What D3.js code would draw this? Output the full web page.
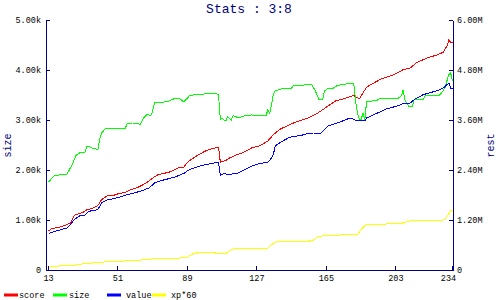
<!DOCTYPE html>
<html>
<head>
<meta charset="utf-8">
<script src="https://cdn.jsdelivr.net/npm/d3@7"></script>
<style>
body { margin: 0; background: #fff; }
text { font-family: "Liberation Mono", "DejaVu Sans Mono", monospace; }
</style>
</head>
<body>
<div id="chart"></div>
<script>
var title = "Stats : 3:8";
var turnTicks = [13, 51, 89, 127, 165, 203, 234];
var sizeTicks = [0, 1, 2, 3, 4, 5];          // thousands
var restTicks = [0, 1.2, 2.4, 3.6, 4.8, 6];  // millions
var seriesNames = ["score", "size", "value", "xp*60"];
var seriesAxis = ["rest", "size", "rest", "rest"];

// [turn, value]  size in k, the rest in M
var scoreData = [[13,0.95],[15,1.01],[19,1.04],[22,1.08],[25,1.14],[27,1.32],[30,1.37],[32,1.40],[34,1.46],[37,1.49],
  [40,1.56],[42,1.70],[45,1.79],[49,1.81],[51,1.84],[55,1.88],[58,1.94],[61,1.98],[64,2.04],[67,2.12],[70,2.22],[73,2.30],
  [79,2.36],[84,2.46],[87,2.48],[89,2.60],[92,2.69],[95,2.78],[99,2.87],[103,2.93],[106,2.96],[107,2.60],[110,2.64],
  [112,2.70],[116,2.78],[120,2.84],[124,2.94],[129,3.00],[133,3.11],[136,3.26],[140,3.40],[147,3.54],[155,3.66],
  [160,3.77],[165,3.92],[170,4.07],[176,4.14],[180,4.20],[183,4.12],[185,4.26],[187,4.40],[195,4.60],[202,4.70],
  [207,4.82],[211,4.86],[214,4.98],[220,5.10],[226,5.18],[229,5.24],[231,5.39],[232,5.53],[233,5.48],[234,5.48]];

var sizeData = [[13,1.77],[16,1.89],[19,1.91],[23,1.92],[26,2.12],[28,2.30],[30,2.35],[33,2.37],[34,2.49],[37,2.45],
  [40,2.42],[41,2.63],[42,2.75],[44,2.83],[49,2.84],[51,2.83],[55,2.84],[56,2.94],[59,2.95],[62,2.95],[63,2.91],
  [65,3.05],[67,3.12],[69,3.10],[70,3.19],[71,3.37],[76,3.37],[79,3.39],[82,3.44],[85,3.43],[87,3.37],[90,3.49],
  [92,3.51],[98,3.53],[103,3.55],[106,3.52],[107,3.02],[108,3.05],[109,3.01],[110,2.99],[111,3.07],[113,3.01],
  [114,3.10],[117,3.05],[120,3.09],[124,3.11],[131,3.10],[132,3.09],[133,3.22],[134,3.14],[135,3.32],[136,3.52],
  [137,3.59],[140,3.63],[146,3.65],[147,3.70],[153,3.71],[157,3.72],[159,3.59],[161,3.42],[163,3.42],[164,3.59],
  [166,3.65],[169,3.65],[171,3.70],[176,3.73],[180,3.74],[181,3.39],[182,3.15],[183,3.03],[184,3.01],[185,3.15],
  [186,3.01],[187,3.37],[193,3.41],[194,3.43],[204,3.44],[206,3.49],[207,3.61],[208,3.41],[210,3.29],[212,3.29],
  [213,3.41],[218,3.42],[219,3.49],[227,3.51],[228,3.55],[230,3.66],[231,3.80],[232,3.92],[233,3.95],[234,3.79]];

var valueData = [[13,0.89],[15,0.92],[19,0.97],[23,1.02],[25,1.10],[27,1.22],[30,1.31],[33,1.33],[35,1.42],[40,1.46],
  [42,1.62],[45,1.69],[51,1.75],[56,1.82],[60,1.86],[65,1.93],[68,1.98],[71,2.10],[74,2.15],[82,2.24],[87,2.33],
  [90,2.42],[96,2.51],[101,2.56],[106,2.60],[107,2.28],[109,2.33],[111,2.30],[116,2.33],[120,2.41],[124,2.50],
  [128,2.56],[133,2.60],[135,2.70],[136,2.78],[137,2.99],[140,3.08],[145,3.20],[151,3.24],[155,3.29],[158,3.30],
  [162,3.30],[166,3.47],[171,3.54],[178,3.66],[181,3.61],[186,3.59],[187,3.66],[193,3.78],[198,3.88],[204,3.95],
  [207,4.01],[211,4.02],[213,4.10],[218,4.22],[226,4.32],[229,4.38],[232,4.50],[233,4.38],[234,4.38]];

var xpData = [[13,0.08],[19,0.11],[27,0.13],[34,0.17],[42,0.20],[49,0.22],[56,0.23],[63,0.25],[70,0.28],[80,0.29],
  [85,0.30],[89,0.32],[92,0.40],[95,0.43],[103,0.43],[107,0.40],[110,0.41],[112,0.47],[114,0.52],[131,0.53],
  [133,0.54],[135,0.62],[137,0.68],[140,0.70],[155,0.70],[158,0.73],[160,0.80],[163,0.83],[169,0.84],[170,0.85],
  [182,0.86],[184,0.98],[186,1.08],[187,1.10],[197,1.10],[198,1.13],[206,1.13],[208,1.16],[211,1.19],[228,1.19],
  [230,1.24],[232,1.36],[233,1.44],[234,1.44]];

var seriesData = [scoreData, sizeData, valueData, xpData];
var colors = ["#ff0000", "#00ff00", "#0000ff", "#ffff00"];
var navy = "#000080";

var w = 500, h = 300;
var plot = {left: 46, right: 453, top: 20, bottom: 270};

var svg = d3.select("#chart").append("svg").attr("width", w).attr("height", h);

var xScale = d3.scaleLinear().domain([13, 234]).range([48, 452]);
var ySize = d3.scaleLinear().domain([0, 5]).range([plot.bottom, plot.top]);
var yRest = d3.scaleLinear().domain([0, 6]).range([plot.bottom, plot.top]);

// title
svg.append("text").text(title)
    .attr("x", 249).attr("y", 13)
    .attr("text-anchor", "middle")
    .attr("fill", navy)
    .style("font-size", "13px");

// lines
var lineWrap = svg.append("g");
seriesData.forEach(function(data, i){
    var y = seriesAxis[i] == "size" ? ySize : yRest;
    var line = d3.line()
        .x(function(d){ return xScale(d[0]) + 0.5; })
        .y(function(d){ return y(d[1]) + 0.5; });
    lineWrap.append("path")
        .datum(data)
        .attr("d", line)
        .attr("fill", "none")
        .attr("stroke", colors[i])
        .attr("stroke-width", 1)
        .attr("shape-rendering", "crispEdges");
});

// axes
var leftAxis = d3.axisLeft(ySize).tickValues(sizeTicks).tickSizeInner(-4).tickSizeOuter(0).tickPadding(5)
    .tickFormat(function(d){ return d == 0 ? "0" : d.toFixed(2) + "k"; });
var rightAxis = d3.axisRight(yRest).tickValues(restTicks).tickSizeInner(-4).tickSizeOuter(0).tickPadding(4)
    .tickFormat(function(d){ return d == 0 ? "0" : d.toFixed(2) + "M"; });
var bottomAxis = d3.axisBottom(xScale).tickValues(turnTicks).tickSizeInner(-4).tickSizeOuter(0).tickPadding(5);

var gl = svg.append("g").attr("transform", "translate(" + plot.left + ",0)").call(leftAxis);
var gr = svg.append("g").attr("transform", "translate(" + plot.right + ",0)").call(rightAxis);
var gb = svg.append("g").attr("transform", "translate(0," + plot.bottom + ")").call(bottomAxis);
gb.select(".domain").remove();
svg.append("line")
    .attr("x1", plot.left).attr("x2", plot.right + 1)
    .attr("y1", plot.bottom + 0.5).attr("y2", plot.bottom + 0.5)
    .attr("stroke", navy).attr("shape-rendering", "crispEdges");

[gl, gr, gb].forEach(function(g){
    g.selectAll(".domain, .tick line").attr("stroke", navy).attr("shape-rendering", "crispEdges");
    g.selectAll("text").attr("fill", "#000").style("font-size", "8.5px")
        .style("font-family", "\"Liberation Mono\", monospace");
});
// last turn label sits a bit left so it clears the right axis "0"
gb.selectAll(".tick text").filter(function(d){ return d == 234; }).attr("dx", -4);

// axis titles
svg.append("text").text("size")
    .attr("transform", "translate(11,145.5) rotate(-90)")
    .attr("text-anchor", "middle").attr("fill", navy).style("font-size", "10px");
svg.append("text").text("rest")
    .attr("transform", "translate(494,145.5) rotate(-90)")
    .attr("text-anchor", "middle").attr("fill", navy).style("font-size", "10px");

// legend
var legendSwatchX = [4, 53, 107, 152];
var legendTextX = [19, 69, 126, 171];
var legend = svg.append("g");
seriesNames.forEach(function(name, i){
    legend.append("line")
        .attr("x1", legendSwatchX[i]).attr("x2", legendSwatchX[i] + 14)
        .attr("y1", 295).attr("y2", 295)
        .attr("stroke", colors[i]).attr("stroke-width", 3);
    legend.append("text").text(name)
        .attr("x", legendTextX[i]).attr("y", 298)
        .attr("fill", "#000").style("font-size", "8.5px");
});
</script>
</body>
</html>
